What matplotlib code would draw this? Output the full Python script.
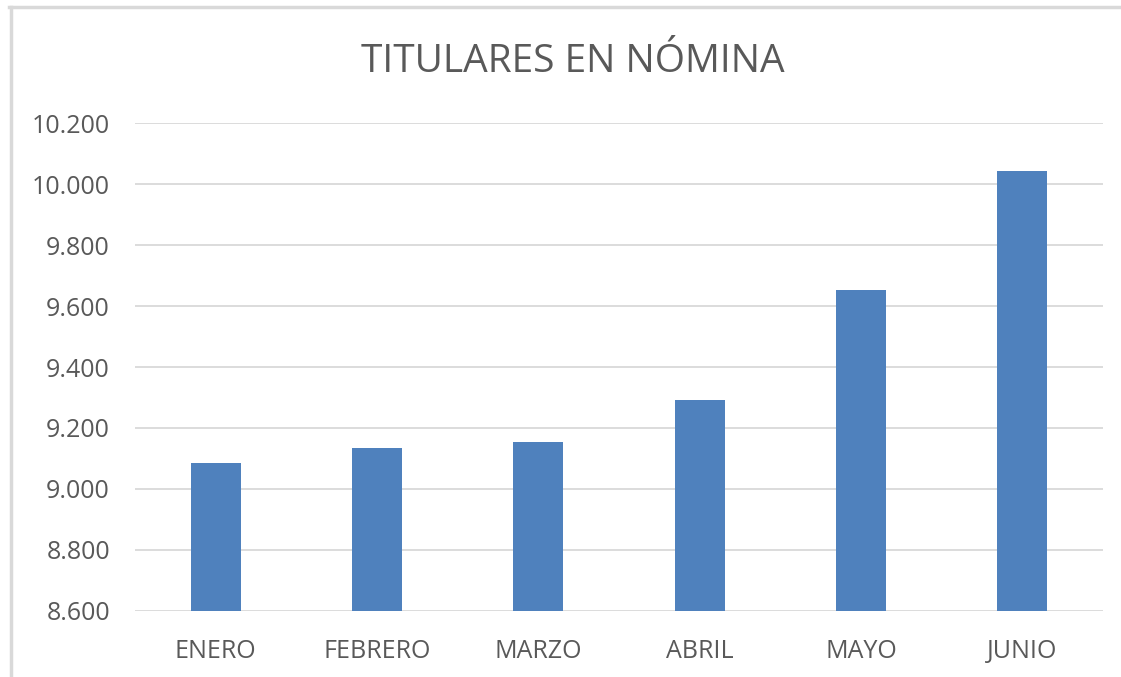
import matplotlib.pyplot as plt
from matplotlib.lines import Line2D
import numpy as np

# datos del gráfico
meses = ['ENERO', 'FEBRERO', 'MARZO', 'ABRIL', 'MAYO', 'JUNIO']
titulares = [9085, 9134, 9155, 9292, 9653, 10044]
ticks_y = [8600, 8800, 9000, 9200, 9400, 9600, 9800, 10000, 10200]
etiquetas_y = ['8.600', '8.800', '9.000', '9.200', '9.400', '9.600', '9.800', '10.000', '10.200']

plt.rcParams['font.family'] = ['Open Sans', 'DejaVu Sans']
gris = '#595959'

fig = plt.figure(figsize=(11.21, 6.77), dpi=100)
ax = fig.add_axes([0.1204, 0.0975, 0.8636, 0.7208])

x = np.arange(len(meses))
ax.bar(x, titulares, width=0.31, color='#4f81bd', zorder=3)

ax.set_xlim(-0.5, len(meses) - 0.5)
ax.set_ylim(8600, 10200)
ax.set_yticks(ticks_y)
ax.set_yticklabels(etiquetas_y)
ax.set_xticks(x)
ax.set_xticklabels(meses)
ax.tick_params(axis='both', length=0, labelsize=18, colors=gris)
ax.tick_params(axis='x', pad=20)
ax.tick_params(axis='y', pad=18)

ax.grid(axis='y', color='#d9d9d9', linewidth=1.3, zorder=0)
for s in ax.spines.values():
    s.set_visible(False)

fig.text(573 / 1121, 1 - 62 / 677, 'TITULARES EN NÓMINA', ha='center', va='center',
         fontsize=28, color=gris)

# marco del gráfico (arriba e izquierda)
fig.add_artist(Line2D([9 / 1121, 1], [1 - 6.5 / 677, 1 - 6.5 / 677],
                      transform=fig.transFigure, color='#d9d9d9', linewidth=2.5))
fig.add_artist(Line2D([10.5 / 1121, 10.5 / 1121], [0, 1 - 6.5 / 677],
                      transform=fig.transFigure, color='#d9d9d9', linewidth=2.5))

fig.savefig('out.png', dpi=100)
